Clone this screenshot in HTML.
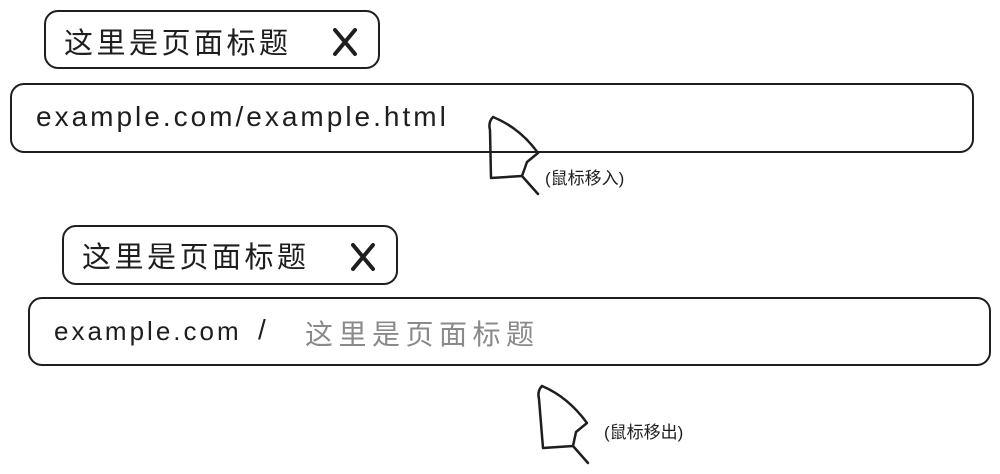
<!DOCTYPE html>
<html><head><meta charset="utf-8"><style>
body{margin:0;width:1000px;height:474px;background:#fff;overflow:hidden;position:relative;font-family:"Liberation Sans","Noto Sans CJK SC",sans-serif}
.b{position:absolute;border:2px solid #1e1e1e;border-radius:14px;box-sizing:border-box}
.t{position:absolute;white-space:nowrap;color:#1e1e1e}
</style></head><body>
<div class="b" style="left:44px;top:10px;width:336px;height:59px"></div>
<div class="t" style="left:64px;top:20px;font-size:29px;letter-spacing:3.5px">这里是页面标题</div>
<div class="b" style="left:10px;top:83px;width:964px;height:70px"></div>
<div class="t" style="left:36px;top:101px;font-size:28px;letter-spacing:3px">example.com/example.html</div>
<div class="b" style="left:62px;top:225px;width:336px;height:60px"></div>
<div class="t" style="left:82px;top:234px;font-size:29px;letter-spacing:3.5px">这里是页面标题</div>
<div class="b" style="left:28px;top:297px;width:963px;height:69px"></div>
<div class="t" style="left:54px;top:316px;font-size:26px;letter-spacing:3px">example.com</div>
<div class="t" style="left:258px;top:314px;font-size:28px">/</div>
<div class="t" style="left:305px;top:313px;font-size:28px;letter-spacing:5.5px;color:#8a8a8a">这里是页面标题</div>
<div class="t" style="left:545px;top:164px;font-size:17px">(鼠标移入)</div>
<div class="t" style="left:604px;top:418px;font-size:17px">(鼠标移出)</div>
<svg width="1000" height="474" style="position:absolute;left:0;top:0" fill="none" stroke="#1e1e1e" stroke-width="4" stroke-linecap="round" stroke-linejoin="round">
<path d="M335 30 L355 54 M355 30 L335 54"/>
<path d="M353 245 L373 269 M373 245 L353 269"/>
<g stroke-width="2.5">
<path d="M493 117 Q488 122 490 130 L491 178 L522 176 L538 194 M493 117 Q520 128 538 153 L527 162 L522 176"/>
<path d="M542 386 Q537 391 539 399 L543 448 L573 446 L588 463 M542 386 Q568 397 587 423 L576 432 L573 446"/>
</g>
</svg>
</body></html>
